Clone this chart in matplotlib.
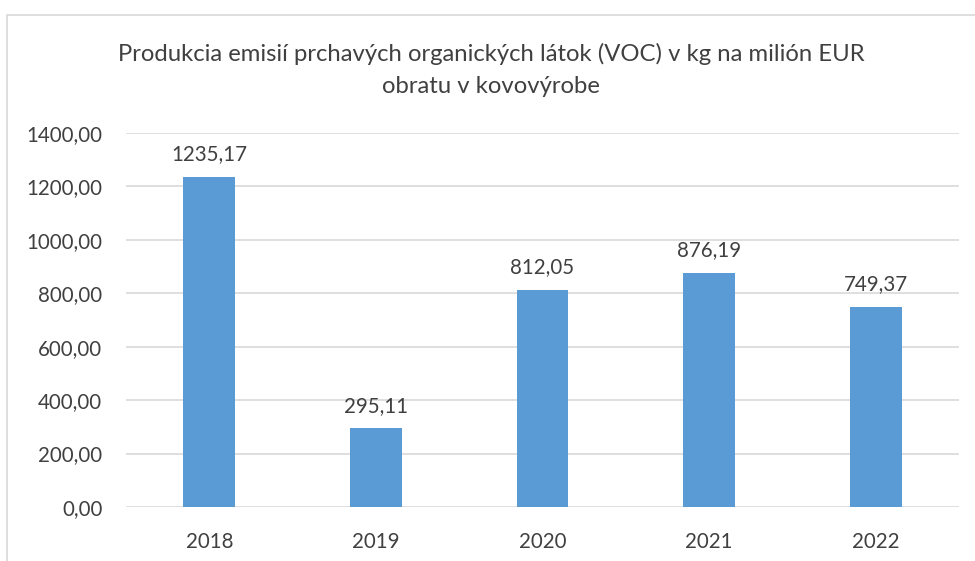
import matplotlib.pyplot as plt
from matplotlib.patches import Rectangle

plt.rcParams['font.family'] = ['Lato', 'DejaVu Sans']

years  = ["2018", "2019", "2020", "2021", "2022"]
values = [1235.17, 295.11, 812.05, 876.19, 749.37]
yticks = [0, 200, 400, 600, 800, 1000, 1200, 1400]

TEXT = "#404040"
GRID = "#D9D9D9"
BAR  = "#5B9BD5"

def fmt(v):
    return f"{v:.2f}".replace(".", ",")

fig = plt.figure(figsize=(9.75, 5.61), dpi=100)
# chart frame (partly cut off at right/bottom like the screenshot)
fig.patches.append(Rectangle((7 / 975, -0.05), 1.2, 1 - 15 / 561 + 0.05,
                             transform=fig.transFigure, fill=False,
                             edgecolor=GRID, lw=1.2))

ax = fig.add_axes([126 / 975, 1 - 507 / 561, 833 / 975, 374 / 561])
x = range(len(years))
ax.bar(x, values, width=0.31, color=BAR, zorder=3)
for xi, v in zip(x, values):
    ax.annotate(fmt(v), (xi, v), xytext=(0, 9), textcoords="offset points",
                ha="center", va="bottom", fontsize=14.8, color=TEXT)

ax.set_xlim(-0.5, len(years) - 0.5)
ax.set_ylim(0, 1400)
ax.set_yticks(yticks)
ax.set_yticklabels([fmt(t) for t in yticks], fontsize=14.8, color=TEXT)
ax.set_xticks(list(x))
ax.set_xticklabels(years, fontsize=14.8, color=TEXT)
ax.tick_params(axis="x", length=0, pad=18)
ax.tick_params(axis="y", length=0, pad=17)
ax.yaxis.grid(True, color=GRID, lw=1.2, zorder=0)
for s in ax.spines.values():
    s.set_visible(False)

fig.text(491 / 975, 1 - 70 / 561,
         "Produkcia emisií prchavých organických látok (VOC) v kg na milión EUR\nobratu v kovovýrobe",
         ha="center", va="center", fontsize=17.2, color=TEXT, linespacing=1.6)

fig.savefig("out.png", dpi=100)
